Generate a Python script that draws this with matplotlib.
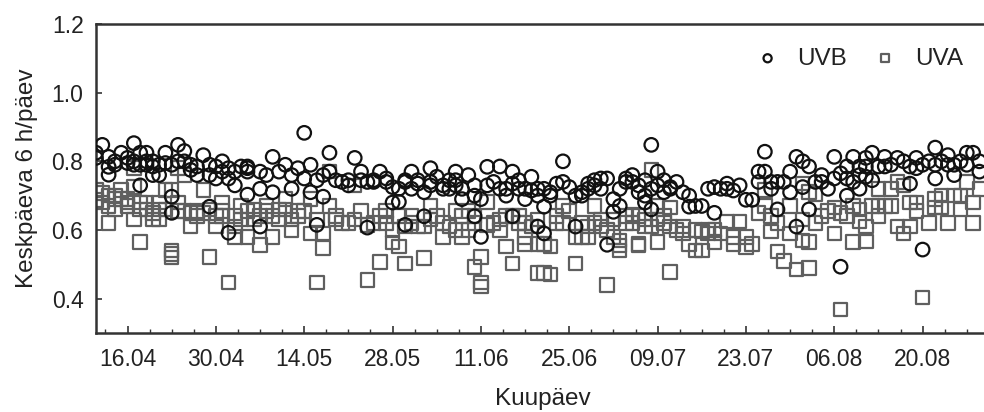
import matplotlib
matplotlib.use("Agg")
import matplotlib.pyplot as plt
from matplotlib.ticker import FixedLocator, MultipleLocator

plt.rcParams['font.family'] = ['Liberation Sans', 'DejaVu Sans']

# x = days counted from 11.04
tick_days = [5, 19, 33, 47, 61, 75, 89, 103, 117, 131]
tick_labels = ["16.04", "30.04", "14.05", "28.05", "11.06",
               "25.06", "09.07", "23.07", "06.08", "20.08"]

uvb_day = [0, 0, 1, 2, 2, 2, 3, 4, 5, 6, 6, 7, 7, 7, 8, 8, 9, 9, 10, 11,
           11, 12, 12, 13, 14, 13, 15, 16, 16, 17, 18, 18, 18, 19, 19, 20, 21, 21, 21, 22,
           23, 24,
           24, 24, 24, 26, 26, 28, 28, 30, 31, 32, 33, 33, 34, 34, 35, 35, 36, 37,
           37, 38, 40, 40, 41, 42, 42, 43, 44, 45, 43, 46, 47, 47,
           48, 48, 49, 49, 50, 50, 51, 52, 53, 53, 54, 55, 55, 56, 56, 57, 57, 58, 58, 59,
           60, 60, 62, 62, 64, 64, 65, 65, 66, 67, 67, 68, 69, 68, 69, 70, 70, 71,
           49, 52, 61, 61, 60, 66, 70, 71,
           71, 72, 72, 73, 74, 75, 76, 77, 77, 78, 79, 79, 80, 80, 81, 82, 82, 83, 83, 84,
           84, 85, 86, 86, 87, 87, 87, 88, 88, 88, 89, 90, 90, 91, 91, 93, 94, 94, 76, 81,
           95, 96, 97, 98, 98, 99, 100, 101, 102, 103, 104, 105, 106, 106, 107, 107, 108, 109, 108, 110,
           110, 111, 112, 112, 113, 113, 111, 114, 115, 116, 117, 117, 118, 118,
           119, 119, 119, 120, 120, 121, 121, 122, 122, 122, 123, 123, 124, 125, 125, 127, 128, 129, 129, 130,
           131, 132, 133, 133, 133, 134, 135, 136, 136, 137, 138, 139, 140, 140, 131,
           # overlapping points in the dense band
           3, 5, 6, 8, 9, 10, 12, 14, 15, 20, 22, 26, 27, 29, 31, 36, 39, 44, 46, 51,
           53, 57, 63, 66, 74, 78, 85, 89, 92, 100, 105, 115, 121, 126, 130, 135, 138]
uvb_val = [0.825, 0.81, 0.848, 0.813, 0.784, 0.761, 0.80, 0.825, 0.81, 0.853, 0.80, 0.79, 0.825, 0.73, 0.825, 0.79, 0.80, 0.76, 0.76, 0.825,
           0.795, 0.697, 0.65, 0.848, 0.83, 0.80, 0.79, 0.76, 0.785, 0.818, 0.79, 0.668, 0.76, 0.785, 0.75, 0.80, 0.75, 0.592, 0.78, 0.73,
           0.785, 0.785,
           0.78, 0.77, 0.703, 0.72, 0.61, 0.813, 0.71, 0.79, 0.72, 0.78, 0.883, 0.75, 0.79, 0.71, 0.745, 0.615, 0.697, 0.825,
           0.77, 0.745, 0.745, 0.73, 0.81, 0.77, 0.745, 0.74, 0.74, 0.77, 0.607, 0.75, 0.725, 0.68,
           0.682, 0.72, 0.74, 0.745, 0.77, 0.72, 0.745, 0.71, 0.73, 0.78, 0.755, 0.73, 0.72, 0.72, 0.745, 0.77, 0.745, 0.72, 0.69, 0.76,
           0.70, 0.73, 0.784, 0.73, 0.785, 0.72, 0.72, 0.70, 0.77, 0.745, 0.72, 0.69, 0.755, 0.72, 0.715, 0.70, 0.72, 0.668,
           0.615, 0.64, 0.69, 0.58, 0.64, 0.64, 0.61, 0.59,
           0.72, 0.70, 0.71, 0.735, 0.80, 0.725, 0.70, 0.71, 0.70, 0.72, 0.73, 0.745, 0.72, 0.75, 0.75, 0.69, 0.653, 0.67, 0.72, 0.75,
           0.74, 0.76, 0.73, 0.71, 0.745, 0.70, 0.68, 0.66, 0.848, 0.72, 0.77, 0.71, 0.745, 0.72, 0.725, 0.71, 0.70, 0.668, 0.61, 0.557,
           0.67, 0.67, 0.72, 0.725, 0.65, 0.72, 0.735, 0.715, 0.73, 0.688, 0.688, 0.77, 0.828, 0.77, 0.74, 0.72, 0.74, 0.74, 0.66, 0.77,
           0.71, 0.813, 0.80, 0.725, 0.785, 0.66, 0.61, 0.74, 0.74, 0.72, 0.813, 0.75, 0.765, 0.493,
           0.75, 0.785, 0.70, 0.813, 0.74, 0.785, 0.72, 0.81, 0.785, 0.755, 0.825, 0.745, 0.785, 0.813, 0.785, 0.81, 0.80, 0.785, 0.735, 0.81,
           0.79, 0.80, 0.75, 0.84, 0.79, 0.80, 0.818, 0.76, 0.79, 0.80, 0.825, 0.825, 0.80, 0.77, 0.543,
           0.79, 0.795, 0.79, 0.80, 0.785, 0.79, 0.79, 0.80, 0.775, 0.77, 0.77, 0.77, 0.76, 0.77, 0.76, 0.76, 0.74, 0.745, 0.74, 0.735,
           0.74, 0.73, 0.74, 0.735, 0.74, 0.735, 0.74, 0.73, 0.74, 0.72, 0.74, 0.76, 0.76, 0.79, 0.78, 0.79, 0.79]

uva_day = [0, 0, 1, 2, 2, 2, 3, 3, 4, 4, 5, 5, 6, 6, 6, 7, 7, 7, 8, 9,
           9, 10, 10, 11, 12, 12, 12, 12, 13, 13, 14, 14, 15, 16, 17, 17, 18, 19, 19, 20,
           20, 21, 22, 22, 23, 23,
           24, 24, 25, 26, 27, 27, 28, 29, 30, 30, 31, 32, 33, 34, 34, 35, 36, 36, 37, 37,
           38, 39, 40, 41, 42, 43, 43, 45, 46, 47, 47,
           48, 48, 49, 49, 50, 51, 52, 52, 53, 54, 55, 56, 57, 58, 58, 59, 59, 60, 60, 61,
           61, 61, 62, 62, 64, 65, 65, 66, 66, 67, 67, 68, 68, 69, 70, 70, 71, 71,
           72, 72, 73, 73, 74, 75, 76, 76, 77, 78, 78, 79, 80, 80, 81, 81, 82, 83, 83, 83,
           84, 85, 85, 86, 86, 86, 87, 88, 88, 89, 89, 89, 90, 91, 91, 91, 93, 93, 94,
           95, 95, 96, 96, 97, 98, 98, 100, 101, 101, 102, 103, 104, 105, 106, 106, 107, 107, 108, 109,
           111, 110, 110, 112, 112, 112, 113, 113, 113, 114, 115, 116, 117, 117, 118,
           119, 120, 120, 121, 122, 122, 123, 124, 124, 124, 125, 126, 127, 127, 128, 128, 129, 129, 130, 131,
           132, 133, 133, 134, 135, 136, 137, 138, 139, 139, 140,
           # overlapping points in the dense band
           1, 3, 5, 8, 10, 11, 13, 15, 16, 18, 20, 22, 25, 26, 28, 29, 31, 32, 35, 38,
           41, 44, 45, 46, 50, 53, 55, 57, 60, 63, 64, 68, 70, 74, 77, 79, 82, 84, 87, 90,
           92, 97, 99, 103, 108, 114, 118, 121, 126, 130, 134, 137]
uva_val = [0.717, 0.688, 0.708, 0.70, 0.67, 0.62, 0.66, 0.69, 0.717, 0.69, 0.69, 0.67, 0.63, 0.725, 0.78, 0.565, 0.68, 0.66, 0.66, 0.65,
           0.63, 0.68, 0.63, 0.717, 0.54, 0.53, 0.52, 0.717, 0.655, 0.78, 0.655, 0.76, 0.61, 0.655, 0.65, 0.717, 0.522, 0.64, 0.61, 0.68,
           0.655, 0.447, 0.61, 0.58, 0.67, 0.63,
           0.655, 0.58, 0.63, 0.557, 0.67, 0.655, 0.58, 0.63, 0.69, 0.66, 0.60, 0.655, 0.655, 0.69, 0.59, 0.447, 0.548, 0.59, 0.77, 0.67,
           0.63, 0.62, 0.62, 0.73, 0.655, 0.455, 0.615, 0.507, 0.655, 0.60, 0.563,
           0.552, 0.64, 0.61, 0.503, 0.64, 0.61, 0.61, 0.518, 0.67, 0.64, 0.58, 0.61, 0.655, 0.64, 0.58, 0.60, 0.655, 0.62, 0.493, 0.522,
           0.447, 0.435, 0.682, 0.615, 0.60, 0.64, 0.552, 0.503, 0.64, 0.62, 0.64, 0.58, 0.56, 0.61, 0.56, 0.475, 0.475, 0.56,
           0.552, 0.47, 0.64, 0.62, 0.67, 0.655, 0.58, 0.503, 0.58, 0.61, 0.58, 0.67, 0.63, 0.61, 0.60, 0.44, 0.58, 0.57, 0.54, 0.555,
           0.64, 0.645, 0.62, 0.56, 0.555, 0.64, 0.61, 0.61, 0.775, 0.565, 0.63, 0.67, 0.64, 0.665, 0.61, 0.478, 0.61, 0.59, 0.56,
           0.60, 0.54, 0.54, 0.595, 0.59, 0.565, 0.60, 0.625, 0.58, 0.56, 0.625, 0.55, 0.56, 0.65, 0.717, 0.67, 0.64, 0.595, 0.537, 0.51,
           0.485, 0.67, 0.59, 0.735, 0.63, 0.57, 0.565, 0.49, 0.71, 0.705, 0.64, 0.655, 0.59, 0.665, 0.368,
           0.64, 0.565, 0.67, 0.625, 0.567, 0.61, 0.67, 0.64, 0.72, 0.67, 0.67, 0.72, 0.61, 0.74, 0.59, 0.73, 0.61, 0.68, 0.655, 0.403,
           0.62, 0.69, 0.665, 0.665, 0.62, 0.70, 0.70, 0.74, 0.68, 0.62, 0.72,
           0.68, 0.70, 0.68, 0.68, 0.66, 0.66, 0.68, 0.65, 0.64, 0.66, 0.64, 0.64, 0.66, 0.64, 0.64, 0.66, 0.63, 0.64, 0.63, 0.64,
           0.63, 0.62, 0.64, 0.62, 0.62, 0.63, 0.62, 0.60, 0.64, 0.62, 0.63, 0.62, 0.63, 0.62, 0.62, 0.62, 0.63, 0.62, 0.63, 0.62,
           0.60, 0.60, 0.59, 0.58, 0.62, 0.62, 0.65, 0.66, 0.67, 0.68, 0.70, 0.66]

fig = plt.figure(figsize=(9.84, 4.12), dpi=100)
ax = fig.add_axes([96 / 984, 79 / 412, 894 / 984, 309 / 412])

ax.scatter(uva_day, uva_val, s=95, marker='s', facecolors='none',
           edgecolors='#5f5f5f', linewidths=1.6, label='UVA', zorder=2)
ax.scatter(uvb_day, uvb_val, s=95, marker='o', facecolors='none',
           edgecolors='#111111', linewidths=1.6, label='UVB', zorder=3)

ax.set_xlim(0, 894 / 6.31)
ax.set_ylim(0.3, 1.2)
ax.xaxis.set_major_locator(FixedLocator(tick_days))
ax.set_xticklabels(tick_labels)
ax.xaxis.set_minor_locator(MultipleLocator(3.5, offset=1.5))
ax.set_yticks([0.4, 0.6, 0.8, 1.0, 1.2])
ax.set_yticklabels(["0.4", "0.6", "0.8", "1.0", "1.2"])

ax.tick_params(which='both', direction='in', labelsize=16.5, color='#333333',
               labelcolor='#222222')
ax.tick_params(axis='x', which='major', length=5, width=1.2, pad=11)
ax.tick_params(axis='x', which='minor', length=3, width=1.0)
ax.tick_params(axis='y', which='major', length=4, width=1.2, pad=9)
for side in ['left', 'bottom', 'top']:
    ax.spines[side].set_linewidth(1.8)
    ax.spines[side].set_color('#333333')
ax.spines['right'].set_visible(False)

ax.set_xlabel('Kuupäev', fontsize=17.5, labelpad=12, color='#222222')
ax.set_ylabel('Keskpäeva 6 h/päev', fontsize=17.5, labelpad=10, color='#222222')

handles, labels = ax.get_legend_handles_labels()
ax.legend(handles[::-1], labels[::-1], loc='upper right', ncol=2,
          frameon=False, fontsize=17.5, markerscale=0.6, handlelength=0.6,
          handletextpad=0.93, columnspacing=1.27, borderaxespad=0,
          bbox_to_anchor=(0.981, 0.955), labelcolor='#222222')

fig.savefig('out.png', dpi=100)
